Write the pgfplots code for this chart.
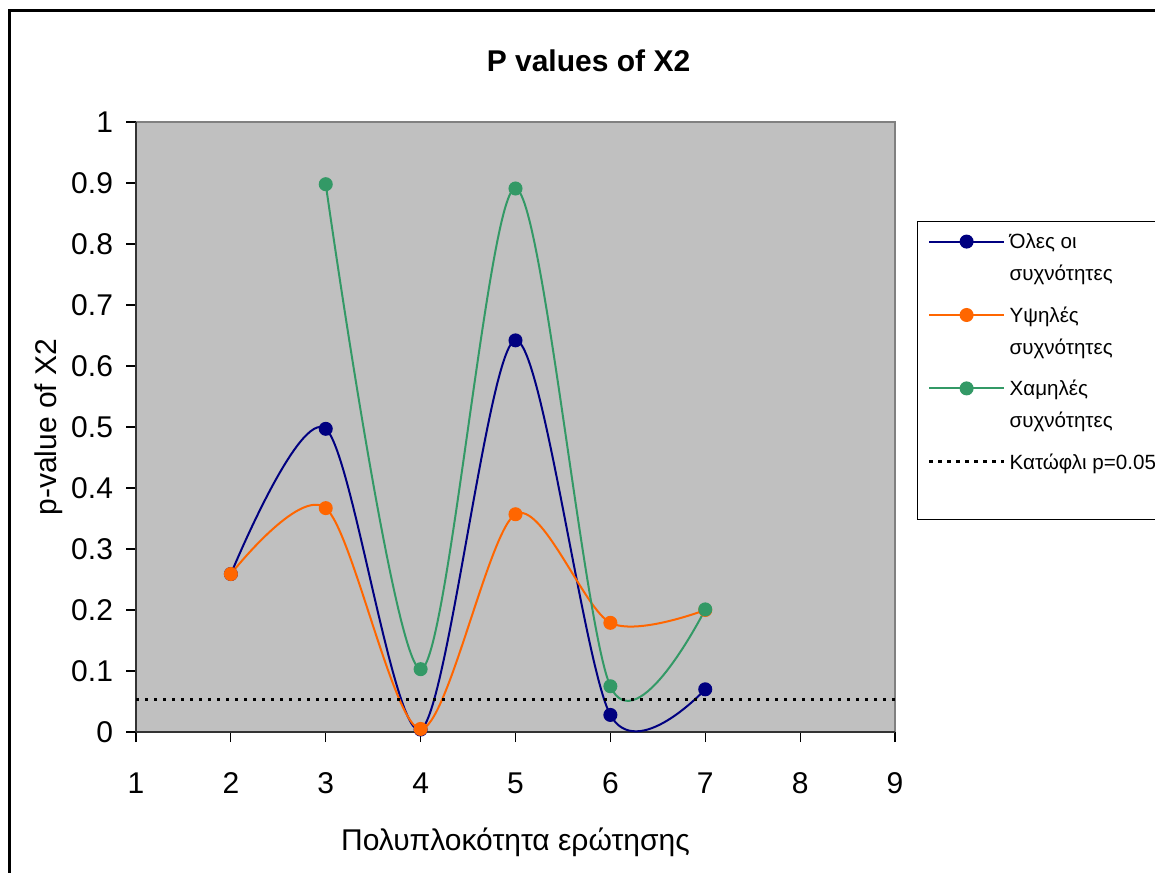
\documentclass[border=0pt]{standalone}
\usepackage{fontspec}
\setmainfont{Liberation Sans}
\usepackage{pgfplots}
\pgfplotsset{compat=1.18}

\definecolor{allfreq}{HTML}{000080}
\definecolor{highfreq}{HTML}{FF6600}
\definecolor{lowfreq}{HTML}{339966}
\definecolor{plotgray}{HTML}{C0C0C0}
\definecolor{plotborder}{HTML}{808080}

\begin{document}
\begin{tikzpicture}
\useasboundingbox (0,0) rectangle (577.5pt,436pt);
% chart area frame
\begin{scope}
  \clip (0,0) rectangle (577.5pt,436pt);
  \draw[line width=1.1pt] (4.75pt,-10pt) rectangle (600pt,430.75pt);
\end{scope}
\begin{axis}[
  at={(68pt,70pt)}, anchor=south west,
  scale only axis, width=379.5pt, height=305pt,
  xmin=1, xmax=9, ymin=0, ymax=1,
  xtick={1,2,...,9},
  ytick={0,0.1,0.2,0.3,0.4,0.5,0.6,0.7,0.8,0.9,1},
  axis background/.style={fill=plotgray, draw=plotborder, line width=1pt},
  axis x line*=bottom, axis y line*=left,
  axis line style={black!80, line width=0.9pt, -},
  tick align=outside, major tick length=5pt,
  tick style={black, line width=0.6pt},
  /pgf/number format/assume math mode=true,
  /pgf/number format/fixed, /pgf/number format/precision=1,
  ticklabel style={font=\fontsize{15}{18}\selectfont},
  xticklabel style={anchor=base, yshift=-25.5pt},
  yticklabel style={xshift=-3pt},
  title={P values of X2},
  title style={font=\fontsize{15}{18}\selectfont\bfseries,
    at={(axis description cs:0.5962,1.0625)}, anchor=base},
  xlabel={Πολυπλοκότητα ερώτησης},
  xlabel style={font=\fontsize{15}{18}\selectfont,
    at={(axis description cs:0.5,-0.1935)}, anchor=base},
  ylabel={p-value of X2},
  ylabel style={font=\fontsize{15}{18}\selectfont,
    at={(axis description cs:-0.1054,0.5)}, anchor=base},
  legend style={at={(axis description cs:1.029,0.8377)}, anchor=north west,
    draw=black, line width=0.6pt, fill=white,
    inner xsep=5pt, inner ysep=2.5pt, row sep=4.7pt,
    font=\fontsize{10.3}{16}\selectfont,
    cells={anchor=base west},
    nodes={inner xsep=2pt, inner ysep=0pt, text depth=}},
  legend image code/.code={%
    \draw[mark repeat=2, mark phase=2, #1]
      plot coordinates {(0pt,3.7pt) (18.75pt,3.7pt) (37.5pt,3.7pt)};},
  every axis plot/.append style={line width=1pt},
]
\addplot[allfreq, smooth, tension=0.5, mark=*, mark size=3pt]
  coordinates {(2,0.259) (3,0.497) (4,0.004) (5,0.642) (6,0.028) (7,0.070)};
\addlegendentry{\begin{tabular}[t]{@{}l@{}}Όλες οι\\συχνότητες\end{tabular}}
\addplot[highfreq, smooth, tension=0.5, mark=*, mark size=3pt]
  coordinates {(2,0.259) (3,0.367) (4,0.005) (5,0.357) (6,0.179) (7,0.200)};
\addlegendentry{\begin{tabular}[t]{@{}l@{}}Υψηλές\\συχνότητες\end{tabular}}
\addplot[lowfreq, smooth, tension=0.5, mark=*, mark size=3pt]
  coordinates {(3,0.898) (4,0.103) (5,0.891) (6,0.075) (7,0.201)};
\addlegendentry{\begin{tabular}[t]{@{}l@{}}Χαμηλές\\συχνότητες\end{tabular}}
\addplot[black, line width=1.5pt, dash pattern=on 1.7pt off 2.8pt]
  coordinates {(1,0.053) (9,0.053)};
\addlegendentry{\begin{tabular}[t]{@{}l@{}}Κατώφλι p=0.05\\[2pt]~\end{tabular}}
\end{axis}
\end{tikzpicture}
\end{document}
